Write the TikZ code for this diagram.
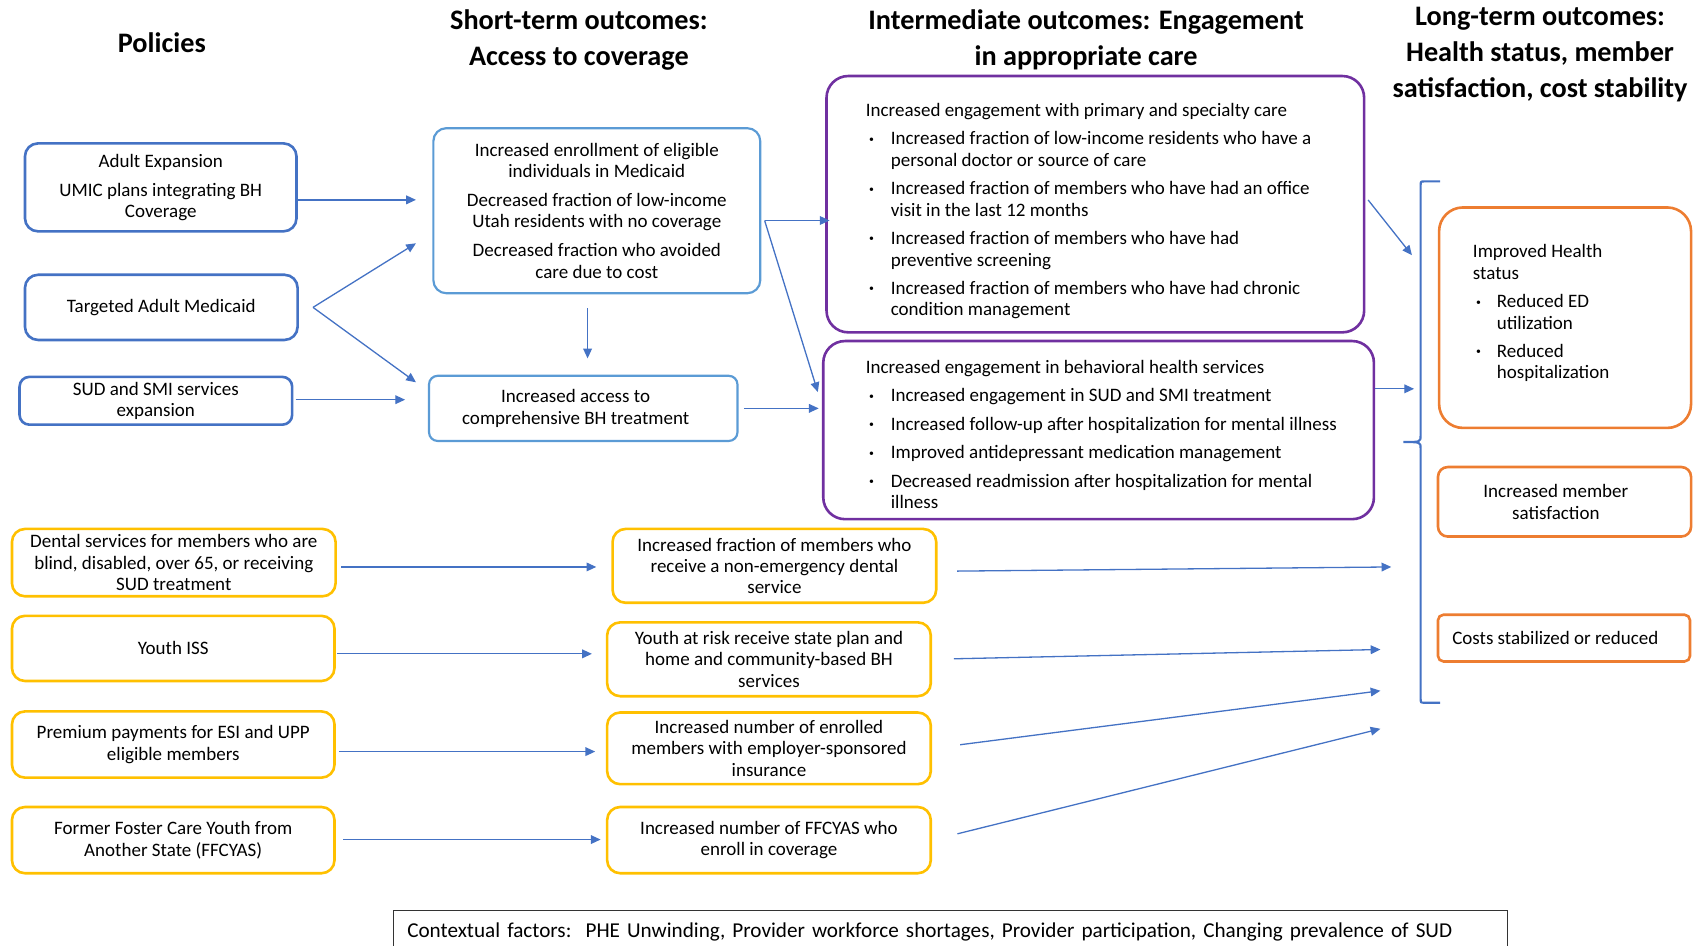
\documentclass[tikz,border=0pt]{standalone}
\usepackage{fontspec}
\setmainfont{Carlito}
\usetikzlibrary{arrows.meta}
\definecolor{dblue}{HTML}{4472C4}
\definecolor{lblue}{HTML}{5B9BD5}
\definecolor{purp}{HTML}{7030A0}
\definecolor{orng}{HTML}{ED7D31}
\definecolor{yell}{HTML}{FFC000}
\newcommand{\smbul}{\raisebox{2.5pt}{\fontsize{9}{9}\selectfont\textbullet}}
\newcommand{\mybul}{\makebox[23pt][l]{\hspace{3pt}\smbul}}
\newcommand{\myind}{\hspace*{23pt}}
\newcommand{\lbul}{\makebox[22pt][l]{\hspace{3pt}\smbul}}
\newcommand{\lind}{\hspace*{22pt}}
\begin{document}
\begin{tikzpicture}[x=1pt,y=-1pt,
  every node/.style={font=\fontsize{17.5}{19.7}\selectfont, inner sep=0pt},
  ttl/.style={font=\fontsize{26}{33}\selectfont\bfseries, align=center},
  box/.style={draw, rounded corners=12pt, align=center},
  pbox/.style={box, draw=dblue, line width=2.4pt},
  sbox/.style={box, draw=lblue, line width=2pt},
  ibox/.style={draw=purp, line width=2.4pt, rounded corners=20pt},
  lbox/.style={draw=orng, line width=2.4pt, rounded corners=14pt, align=center},
  ybox/.style={box, draw=yell, line width=2.4pt},
  ctxbox/.style={draw=black!80, line width=1pt},
  arr/.style={draw=dblue, line width=1.2pt, -{Triangle[length=9pt,width=8pt]}},
  brace/.style={draw=dblue, line width=2pt},
]
\useasboundingbox (0,0) rectangle (1568,871);

% titles
\node[ttl] (t1) at (149,39) {Policies};
\node[ttl] (t2) at (533,36.5) {Short-term outcomes:\\Access to coverage};
\node[ttl] (t3) at (1000,36.5) {Intermediate outcomes: Engagement\\in appropriate care};
\node[ttl] (t4) at (1418,50) {Long-term outcomes:\\Health status, member\\satisfaction, cost stability};

% policy boxes
\node[pbox, minimum width=250pt, minimum height=81pt] (p1) at (148,172.5)
  {Adult Expansion\\[7pt]UMIC plans integrating BH\\Coverage};
\node[pbox, minimum width=251pt, minimum height=60pt] (p2) at (148.5,283)
  {Targeted Adult Medicaid};
\node[pbox, minimum width=251pt, minimum height=44pt, rounded corners=9pt] (p3) at (143.5,369)
  {SUD and SMI services\\expansion};

% short-term boxes
\node[sbox, minimum width=301pt, minimum height=152pt] (s1) at (549.5,194)
  {Increased enrollment of eligible\\individuals in Medicaid\\[7pt]Decreased fraction of low-income\\Utah residents with no coverage\\[7pt]Decreased fraction who avoided\\care due to cost};
\node[sbox, minimum width=284pt, minimum height=60pt, rounded corners=8pt] (s2) at (537,376)
  {\hspace*{-14pt}Increased access to\\\hspace*{-14pt}comprehensive BH treatment};

% intermediate boxes
\node[ibox, minimum width=495pt, minimum height=236pt] (i1) at (1008.5,188) {};
\node[align=left, anchor=west] (i1t) at (797,194.5)
  {Increased engagement with primary and specialty care\\[6.5pt]
   \mybul Increased fraction of low-income residents who have a\\\myind personal doctor or source of care\\[6.5pt]
   \mybul Increased fraction of members who have had an office\\\myind visit in the last 12 months\\[6.5pt]
   \mybul Increased fraction of members who have had\\\myind preventive screening\\[6.5pt]
   \mybul Increased fraction of members who have had chronic\\\myind condition management};
\node[ibox, minimum width=507pt, minimum height=164pt] (i2) at (1011.5,396) {};
\node[align=left, anchor=west] (i2t) at (797,400)
  {Increased engagement in behavioral health services\\[6.5pt]
   \mybul Increased engagement in SUD and SMI treatment\\[6.5pt]
   \mybul Increased follow-up after hospitalization for mental illness\\[6.5pt]
   \mybul Improved antidepressant medication management\\[6.5pt]
   \mybul Decreased readmission after hospitalization for mental\\\myind illness};

% long-term boxes
\node[lbox, minimum width=232pt, minimum height=203pt, rounded corners=22pt] (l1) at (1441,292.5) {};
\node[align=left, anchor=west] (l1t) at (1356,288.5)
  {Improved Health\\status\\[6.5pt]
   \lbul Reduced ED\\\lind utilization\\[6.5pt]
   \lbul Reduced\\\lind hospitalization};
\node[lbox, minimum width=233pt, minimum height=64pt, rounded corners=9pt] (l2) at (1440.5,462)
  {\hspace*{-16pt}Increased member\\\hspace*{-16pt}satisfaction};
\node[lbox, minimum width=232pt, minimum height=43pt, rounded corners=5pt] (l3) at (1440,587.5)
  {\hspace*{-16pt}Costs stabilized or reduced};

% yellow policy boxes
\node[ybox, minimum width=298pt, minimum height=62pt] (y1) at (160,518)
  {Dental services for members who are\\blind, disabled, over 65, or receiving\\SUD treatment};
\node[ybox, minimum width=297pt, minimum height=60pt] (y2) at (159.5,597) {Youth ISS};
\node[ybox, minimum width=297pt, minimum height=61pt] (y3) at (159.5,685.5)
  {Premium payments for ESI and UPP\\eligible members};
\node[ybox, minimum width=297pt, minimum height=61pt] (y4) at (159.5,773.5)
  {Former Foster Care Youth from\\Another State (FFCYAS)};

% yellow outcome boxes
\node[ybox, minimum width=298pt, minimum height=68pt] (o1) at (713,521)
  {Increased fraction of members who\\receive a non-emergency dental\\service};
\node[ybox, minimum width=298pt, minimum height=68pt] (o2) at (708,607)
  {Youth at risk receive state plan and\\home and community-based BH\\services};
\node[ybox, minimum width=298pt, minimum height=66pt] (o3) at (708,689)
  {Increased number of enrolled\\members with employer-sponsored\\insurance};
\node[ybox, minimum width=298pt, minimum height=61pt] (o4) at (708,773.5)
  {Increased number of FFCYAS who\\enroll in coverage};

% contextual factors
\node[ctxbox, minimum width=1026pt, minimum height=40pt, text width=1000pt, align=left,
      font=\fontsize{19.5}{22}\selectfont] (ctx) at (875,858)
  {Contextual factors:\ \ PHE Unwinding, Provider workforce\ shortages, Provider participation, Changing prevalence of SUD};

% bracket
\draw[brace] (1326,167) -- (1312,167) .. controls (1308,167) .. (1308,171)
  -- (1308,401) .. controls (1308,407) .. (1292,407)
  .. controls (1308,407) .. (1308,413) -- (1308,643)
  .. controls (1308,647) .. (1312,647) -- (1326,647);

% coordinates for free ends
\coordinate (ae) at (383,184);
\coordinate (be) at (383,224);
\coordinate (ce) at (383,352);
\coordinate (de) at (373,368);
\coordinate (ex) at (541,0);
\coordinate (fs) at (704,203);
\coordinate (ge) at (753,361);
\coordinate (is) at (1260,181);
\coordinate (ie) at (1300,235);
\coordinate (je) at (1302,358);
\coordinate (ke) at (549,522);
\coordinate (le) at (545,602);
\coordinate (me) at (548,692);
\coordinate (ne) at (553,773);
\coordinate (oe) at (1281,522);
\coordinate (pe) at (1271,598);
\coordinate (qe) at (1271,636);
\coordinate (re) at (1271,671);

% connectors
\draw[arr] (p1.east |- ae) -- (ae);
\draw[arr] ([xshift=13pt]p2.east) -- (be);
\draw[arr] ([xshift=13pt]p2.east) -- (ce);
\draw[arr, shorten <=2pt] (p3.east |- de) -- (de);
\draw[arr, shorten <=13pt, shorten >=15pt] (s1.south -| ex) -- (s2.north -| ex);
\draw[arr, shorten >=-4pt] (fs) -- (i1.west |- fs);
\draw[arr] (fs) -- (ge);
\draw[arr, shorten <=5pt, shorten >=3pt] (s2.east) -- (i2.west |- s2.east);
\draw[arr, shorten <=4pt] (i1.east |- is) -- (ie);
\draw[arr] (i2.east |- je) -- (je);
\draw[arr, shorten <=4pt] (y1.east |- ke) -- (ke);
\draw[arr, shorten <=1pt] (y2.east |- le) -- (le);
\draw[arr, shorten <=3pt] (y3.east |- me) -- (me);
\draw[arr, shorten <=7pt] (y4.east |- ne) -- (ne);
\draw[arr, shorten <=18pt] ([yshift=-5pt]o1.east) -- (oe);
\draw[arr, shorten <=20pt] (o2.east) -- (pe);
\draw[arr, shorten <=26pt] (o3.east) -- (qe);
\draw[arr, shorten <=24pt] (o4.east) -- (re);
\end{tikzpicture}
\end{document}
